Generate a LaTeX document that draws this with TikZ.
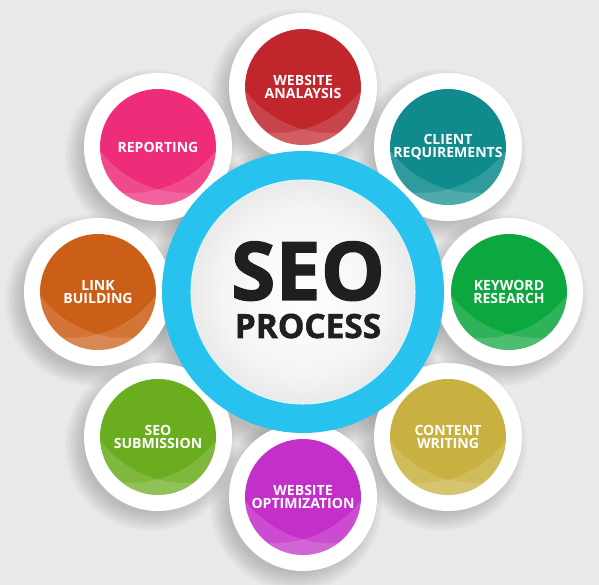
\documentclass[tikz,border=0pt]{standalone}
\usepackage{fontspec}
\setmainfont{Open Sans}
\newfontfamily\seoheavy{Open Sans}[BoldFeatures={FakeBold=1.6}]
\usepackage{tikz}

\definecolor{backgray}{HTML}{E9E9E9}
\definecolor{seocyan}{HTML}{27C3EE}
\definecolor{analysisred}{HTML}{C1262D}
\definecolor{clientteal}{HTML}{0F8B8D}
\definecolor{keywordgreen}{HTML}{0DA73F}
\definecolor{contentgold}{HTML}{C8B140}
\definecolor{optimizepurple}{HTML}{C32FC9}
\definecolor{submitgreen}{HTML}{6AAD1E}
\definecolor{linkorange}{HTML}{CB5F17}
\definecolor{reportpink}{HTML}{EE2C7A}
\pgfdeclareradialshading{seocore}{\pgfpoint{0bp}{0bp}}{color(0bp)=(white); color(18bp)=(white!96!black); color(50bp)=(white!76!black)}
\pgfdeclarelayer{paper}
\pgfdeclarelayer{shadow}
\pgfsetlayers{paper,shadow,main}

\tikzset{
  softshadow/.style={fill=black,fill opacity=0.02},
  gloss/.style={fill=white,fill opacity=0.14},
  bubbletext/.style={text=white,align=center,font=\fontsize{8}{7.7}\selectfont\bfseries},
  bigtext/.style={text=black!88,inner sep=0pt,anchor=base},
}

% one coloured step: name, centre, colour, text
\newcommand{\seobubble}[4]{%
\begin{scope}[shift={(#2)}]
\begin{pgfonlayer}{shadow}
\foreach \s in {1,...,10} \fill[softshadow] (-7,-8) circle (66+2*\s);
\end{pgfonlayer}
\fill[white] (0,0) circle (74);
\fill[#3] (0,0) circle (58);
\clip (0,0) circle (58);
\fill[gloss,even odd rule] (0,0) circle (58) (28,62) circle (108);
\fill[gloss,even odd rule] (0,0) circle (58) (-28,62) circle (108);
\end{scope}
\node[bubbletext] (#1) at (#2) {#4};
}

\begin{document}
\begin{tikzpicture}[x=0.02cm,y=0.02cm]
\begin{pgfonlayer}{paper}
\fill[backgray] (0,0) rectangle (599,585);
\end{pgfonlayer}
\useasboundingbox (0,0) rectangle (599,585);

\seobubble{analysis}{303,498}{analysisred}{WEBSITE\\ANALAYSIS}
\seobubble{client}{448,438}{clientteal}{CLIENT\\REQUIREMENTS}
\seobubble{keyword}{509,293}{keywordgreen}{KEYWORD\\RESEARCH}
\seobubble{content}{448,148}{contentgold}{CONTENT\\WRITING}
\seobubble{optimize}{303,88}{optimizepurple}{WEBSITE\\OPTIMIZATION}
\seobubble{submit}{158,148}{submitgreen}{SEO\\SUBMISSION}
\seobubble{link}{98,293}{linkorange}{LINK\\BUILDING}
\seobubble{report}{158,438}{reportpink}{REPORTING}

% centre
\begin{pgfonlayer}{shadow}
\foreach \s in {1,...,10} \fill[softshadow] (295,283) circle (133+2*\s);
\end{pgfonlayer}
\fill[seocyan] (303,293) circle (141);
\shade[shading=seocore] (303,293) circle (112);
\draw[white!85!seocyan,line width=0.6pt] (303,293) circle (112);
\node[bigtext,font=\seoheavy\fontsize{46}{46}\selectfont\bfseries] (seo) at (308,285) {SEO};
\node[bigtext,font=\seoheavy\fontsize{19}{19}\selectfont\bfseries] (process) at (308,247) {PROCESS};
\end{tikzpicture}
\end{document}
